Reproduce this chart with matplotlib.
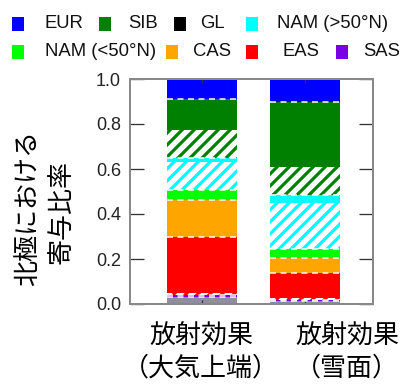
import numpy as np
import matplotlib
matplotlib.use('Agg')
import matplotlib.pyplot as plt
from matplotlib.patches import Rectangle

# contribution fractions, stacked from the bottom up
categories = ['放射効果\n（大気上端）', '放射効果\n（雪面）']
other = [0.033, 0.012]
sas = [0.008, 0.004]
eas_h = [0.010, 0.009]
eas = [0.245, 0.111]
cas = [0.166, 0.067]
nam_s = [0.045, 0.041]
nam_n_h = [0.124, 0.204]
nam_n = [0.019, 0.035]
sib_h = [0.123, 0.127]
sib = [0.139, 0.286]
gl = [0.0, 0.0]
eur = [0.088, 0.104]

legend_labels = ['EUR', 'SIB', 'GL', 'NAM (>50°N)', 'NAM (<50°N)', 'CAS', 'EAS', 'SAS']
legend_colors = ['#0000ff', '#008000', '#000000', '#00ffff', '#00ff00', '#ffa500', '#ff0000', '#7a00e6']
yticks = [0.0, 0.2, 0.4, 0.6, 0.8, 1.0]

W, H, DPI = 404, 387, 72
plt.rcParams['font.family'] = ['Liberation Sans', 'Noto Sans CJK JP']
plt.rcParams['hatch.linewidth'] = 3.2
fig = plt.figure(figsize=(W / DPI, H / DPI), dpi=DPI)
ax = fig.add_axes([130 / W, 1 - 304 / H, 243 / W, 225 / H])

# (values, colour, hatched, dashed line on top)
layers = [
    (other, '#8e8e9c', False, True),
    (sas, '#7a00e6', False, True),
    (eas_h, '#ff0000', True, False),
    (eas, '#ff0000', False, True),
    (cas, '#ffa500', False, True),
    (nam_s, '#00ff00', False, True),
    (nam_n_h, '#00ffff', True, False),
    (nam_n, '#00ffff', False, True),
    (sib_h, '#008000', True, False),
    (sib, '#008000', False, True),
    (gl, '#000000', False, False),
    (eur, '#0000ff', False, False),
]

x = np.arange(len(categories))
width = 0.68
bottom = np.zeros(len(categories))
for vals, color, hatched, dashed in layers:
    vals = np.asarray(vals)
    if hatched:
        ax.bar(x, vals, width, bottom=bottom, color='white', edgecolor=color,
               hatch='//', linewidth=0)
    else:
        ax.bar(x, vals, width, bottom=bottom, color=color, linewidth=0)
    bottom = bottom + vals
    if dashed:
        ax.hlines(bottom, x - width / 2, x + width / 2, colors='white',
                  linestyles=(0, (4, 3)), linewidth=1.5)

ax.set_xlim(-0.699, 1.660)
ax.set_ylim(0, 1)
ax.set_yticks(yticks)
ax.set_yticklabels([f'{v:.1f}' for v in yticks])
ax.set_xticks(x)
ax.set_xticklabels([])
ax.tick_params(axis='y', direction='in', length=14, width=1.3, color='#333333',
               left=True, right=True, labelsize=18, pad=9, labelcolor='#222222')
ax.tick_params(axis='x', direction='in', length=4, width=1.3, color='#333333',
               top=True, bottom=True)
for s in ax.spines.values():
    s.set_color('#888888')
    s.set_linewidth(2)

# category labels under the bars
cjk = 'Noto Sans CJK JP'
for label, xc in zip(categories, [201, 347]):
    top_line, bottom_line = label.split('\n')
    fig.text(xc / W, 1 - 336 / H, top_line, ha='center', va='center', fontsize=26, family=cjk)
    fig.text(xc / W, 1 - 368 / H, bottom_line, ha='center', va='center', fontsize=26, family=cjk)

# y label in two rotated lines
fig.text(28 / W, 1 - 208 / H, '北極における', rotation=90, ha='center', va='center',
         fontsize=26, family=cjk)
fig.text(62 / W, 1 - 212 / H, '寄与比率', rotation=90, ha='center', va='center',
         fontsize=26, family=cjk)

# legend laid out in two rows
square_x = [12, 99, 174, 246, 12, 166, 246, 336]
text_x = [45, 128, 200, 277, 45, 193, 283, 363]
row_y = [24, 24, 24, 24, 52, 52, 52, 52]
for lab, col, sx, tx, yc in zip(legend_labels, legend_colors, square_x, text_x, row_y):
    fig.add_artist(Rectangle((sx / W, 1 - (yc + 7) / H), 12 / W, 14 / H,
                             transform=fig.transFigure, facecolor=col, edgecolor='none'))
    fig.text(tx / W, 1 - yc / H, lab, ha='left', va='center', fontsize=18.5,
             color='#111111')

fig.savefig('out.png', dpi=DPI)
